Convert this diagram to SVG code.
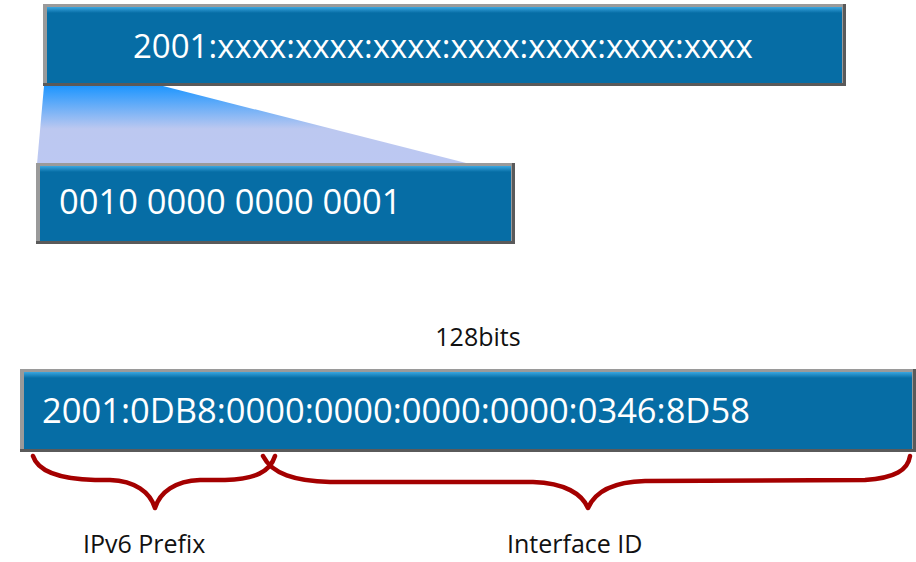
<svg xmlns="http://www.w3.org/2000/svg" width="916" height="562" viewBox="0 0 916 562">
  <defs>
    <linearGradient id="fan" x1="0" y1="0" x2="0" y2="1">
      <stop offset="0" stop-color="#1e96ff"/>
      <stop offset="0.55" stop-color="#bcc8f0"/>
      <stop offset="1" stop-color="#bcc8f2"/>
    </linearGradient>
    <linearGradient id="bevel" x1="0" y1="0" x2="0" y2="1">
      <stop offset="0" stop-color="#3aa6e0"/>
      <stop offset="1" stop-color="#066da5"/>
    </linearGradient>
    <style>
      .frame { fill: #5a5a5a; }
      .frameTop { fill: #9a9a9a; }
      .fill { fill: #066da5; }
      .bev { fill: url(#bevel); }
      .big { font-family: "Open Sans", "Noto Sans", sans-serif; fill: #ffffff; }
      .lbl { font-family: "Open Sans", "Noto Sans", sans-serif; fill: #111111; font-size: 25px; }
      .brace { fill: none; stroke: #a40000; stroke-width: 4.5; stroke-linecap: round; stroke-linejoin: round; }
    </style>
  </defs>

  <polygon points="44,86 163,86 470,164 37,164" fill="url(#fan)"/>

  <g id="node-top">
    <rect class="frame" x="43" y="4" width="803" height="82"/>
    <rect class="frameTop" x="43" y="4" width="800" height="79"/>
    <rect class="fill" x="47" y="7" width="795" height="76"/>
    <rect class="bev" x="47" y="7" width="795" height="6"/>
    <text class="big" x="133" y="58" font-size="33">2001:xxxx:xxxx:xxxx:xxxx:xxxx:xxxx:xxxx</text>
  </g>

  <g id="node-binary">
    <rect class="frame" x="36" y="163" width="479" height="81"/>
    <rect class="frameTop" x="36" y="163" width="476" height="78"/>
    <rect class="fill" x="40" y="166" width="471" height="75"/>
    <rect class="bev" x="40" y="166" width="471" height="6"/>
    <text class="big" x="59" y="214" font-size="34.5">0010 0000 0000 0001</text>
  </g>

  <text class="lbl" x="478" y="346" text-anchor="middle">128bits</text>

  <g id="node-address">
    <rect class="frame" x="20" y="369" width="896" height="83"/>
    <rect class="frameTop" x="20" y="369" width="893" height="80"/>
    <rect class="fill" x="24" y="372" width="888" height="77"/>
    <rect class="bev" x="24" y="372" width="888" height="6"/>
    <text class="big" x="42" y="423" font-size="34.5">2001:0DB8:0000:0000:0000:0000:0346:8D58</text>
  </g>

  <g id="connectors">
    <path class="brace" d="M33,456 C38,472 60,479 95,480 L110,480 C135,481 150,492 155,508 C160,492 175,481 200,480 L225,480 C255,479 270,472 275,456"/>
    <path class="brace" d="M263,456 C272,474 295,481 330,482 L533,482 C565,483 582,494 588,508 C594,494 610,482 645,481 L865,480 C895,478 908,470 910,456"/>
  </g>

  <text class="lbl" x="83" y="553">IPv6 Prefix</text>
  <text class="lbl" x="507" y="553">Interface ID</text>
</svg>
